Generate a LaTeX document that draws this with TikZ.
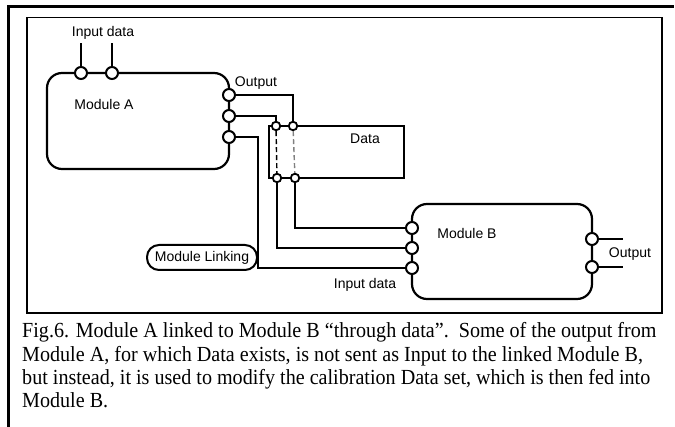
\documentclass[tikz,border=0pt]{standalone}
\usepackage{fontspec}
\setmainfont{Liberation Serif}
\newfontfamily\diagfont{Liberation Sans}
\newfontfamily\capfont[FakeStretch=0.935]{Liberation Serif}
\begin{document}
\begin{tikzpicture}[x=1pt,y=-1pt,
  modbox/.style={draw, line width=2.2pt, rounded corners=15pt, inner sep=0pt},
  databox/.style={draw, line width=2pt, inner sep=0pt},
  port/.style={draw, circle, fill=white, line width=2pt, minimum size=12pt, inner sep=0pt},
  sport/.style={draw, circle, fill=white, line width=1.8pt, minimum size=8.5pt, inner sep=0pt},
  wire/.style={line width=2.2pt},
  lbl/.style={font=\diagfont\fontsize{14}{16}\selectfont, inner sep=0pt, anchor=base},
  captext/.style={font=\capfont\fontsize{21.5}{24}\selectfont, inner sep=0pt, anchor=base west}]
\useasboundingbox (0,0) rectangle (675,427);
% frames
\draw[line width=3pt] (8,427) -- (8,6.5) -- (674,6.5);
\draw[line width=1.6pt] (27,17.5) rectangle (662,313);
% modules
\node[modbox, minimum width=182pt, minimum height=96pt] (A) at (138,121) {};
\node[modbox, minimum width=180pt, minimum height=95pt] (B) at (502,251.5) {};
\node[databox, minimum width=135pt, minimum height=52pt] (D) at (336.5,152) {};
\node[draw, line width=2pt, rounded corners=12pt, minimum width=110pt, minimum height=25pt, inner sep=0pt] (ML) at (202,257.5) {};
% ports
\node[port] (i1) at (81,73) {};
\node[port] (i2) at (112,73) {};
\node[port] (a1) at (229,95) {};
\node[port] (a2) at (229,116) {};
\node[port] (a3) at (229,137) {};
\node[sport] (d1) at (276,126) {};
\node[sport] (d2) at (293,126) {};
\node[sport] (d3) at (277,178) {};
\node[sport] (d4) at (295,178) {};
\node[port] (b1) at (412,228) {};
\node[port] (b2) at (412,248) {};
\node[port] (b3) at (412,268) {};
\node[port] (o1) at (592,239) {};
\node[port] (o2) at (592,267) {};
% free ends
\coordinate (ti1) at (81,43);
\coordinate (ti2) at (112,43);
\coordinate (k3) at (258,268);
\coordinate (to1) at (623,239);
\coordinate (to2) at (623,267);
% wires
\draw[wire] (i1) -- (ti1);
\draw[wire] (i2) -- (ti2);
\draw[wire] (a1) -| (d2);
\draw[wire] (a2) -| (d1);
\draw[wire] (a3) -| (k3) -- (b3);
\draw[wire] (d3) |- (b2);
\draw[wire] (d4) |- (b1);
\draw[wire] (o1) -- (to1);
\draw[wire] (o2) -- (to2);
\draw[line width=1.4pt, dash pattern=on 5pt off 3pt] (d1) -- (d3);
\draw[line width=1.4pt, gray, dash pattern=on 5pt off 3pt] (d2) -- (d4);
% labels
\node[lbl] (l1) at (103,37) {Input data};
\node[lbl] (l2) at (104,110) {Module A};
\node[lbl] (l3) at (256,87) {Output};
\node[lbl] (l4) at (365,144) {Data};
\node[lbl] (l5) at (467,239) {Module B};
\node[lbl] (l6) at (630,258) {Output};
\node[lbl] (l7) at (365,289) {Input data};
\node[lbl] (l8) at (ML.center) [yshift=-4.5pt] {Module Linking};
% caption
\node[captext] (c1) at (22,338) {Fig.6. Module A linked to Module B “through data”.\ \ Some of the output from};
\node[captext] (c2) at (22,361.5) {Module A, for which Data exists, is not sent as Input to the linked Module B,};
\node[captext] (c3) at (22,385) {but instead, it is used to modify the calibration Data set, which is then fed into};
\node[captext] (c4) at (22,408) {Module B.};
\end{tikzpicture}
\end{document}
